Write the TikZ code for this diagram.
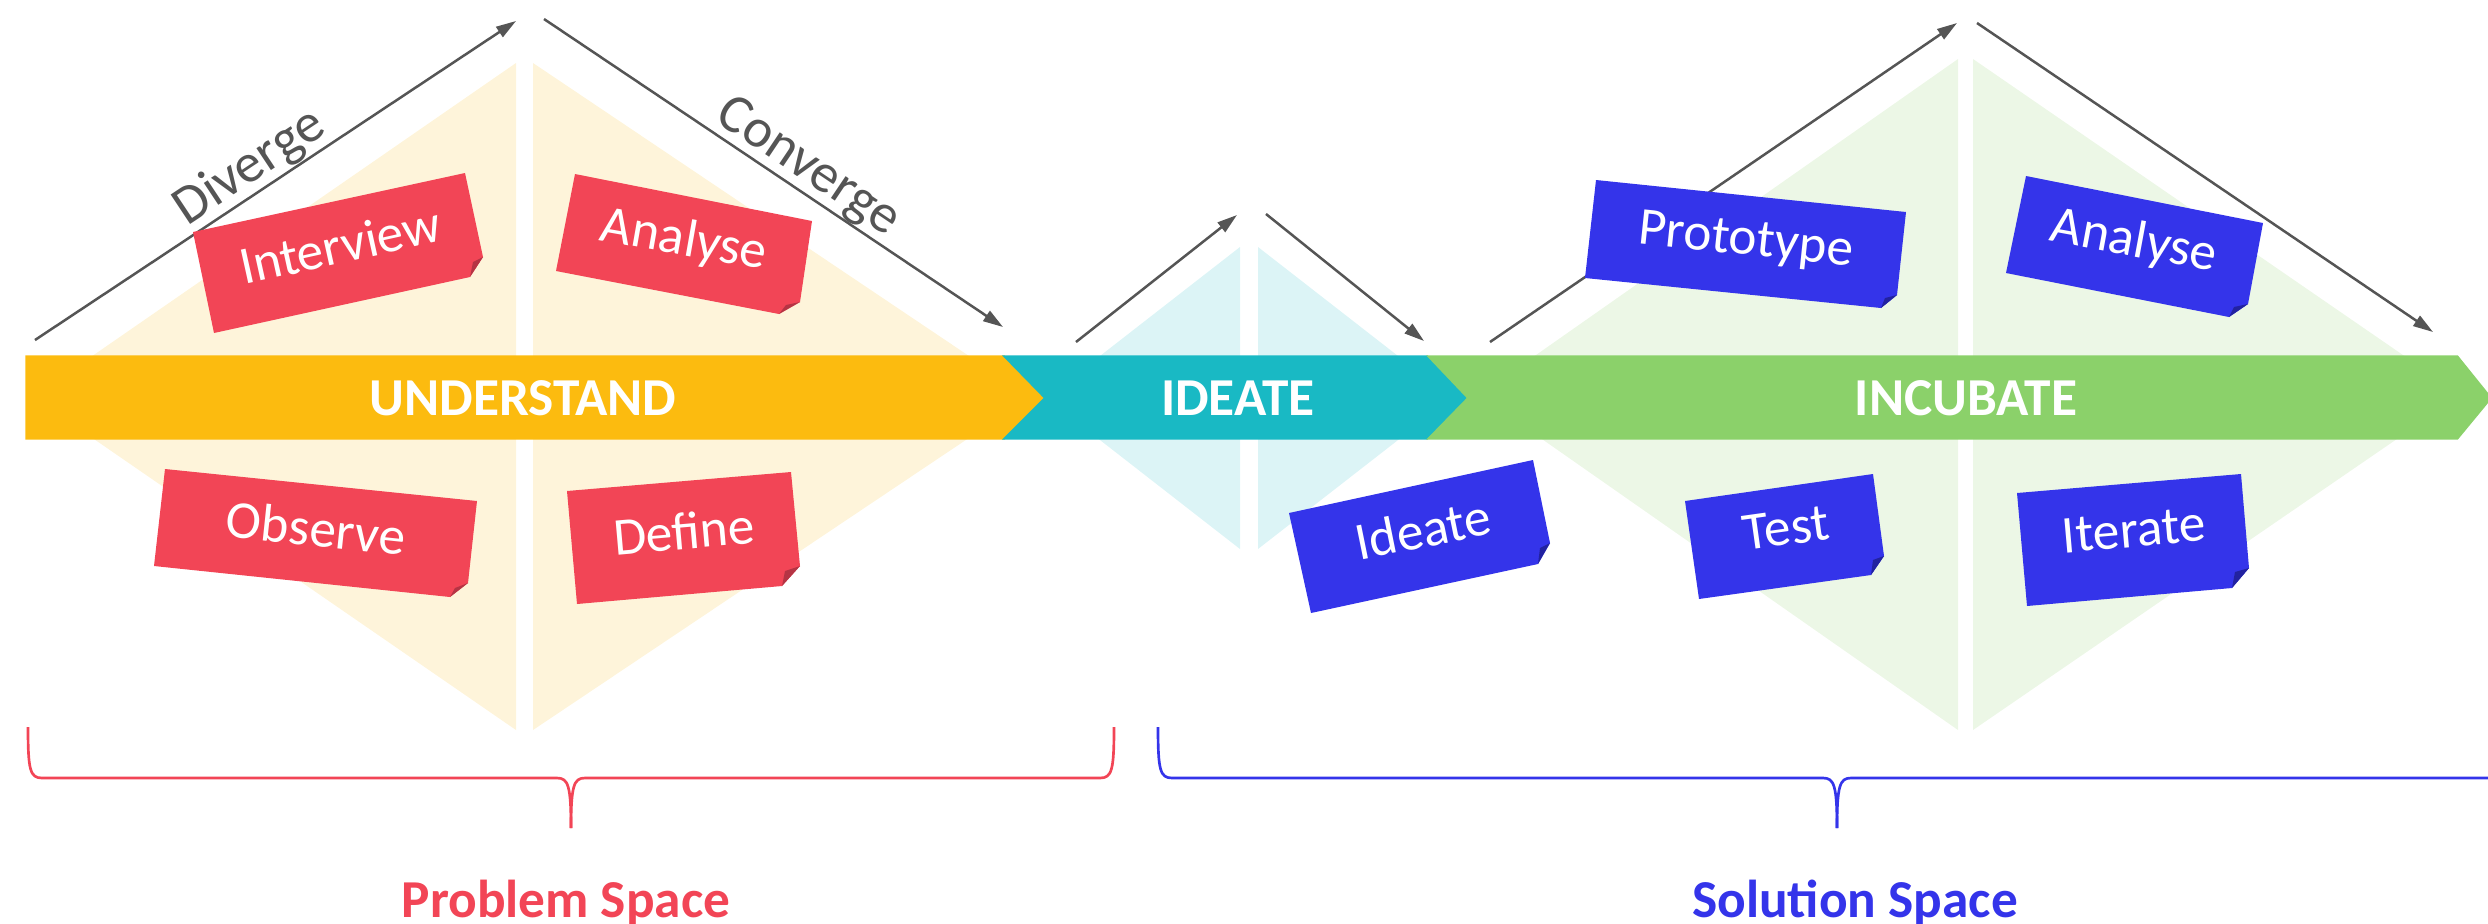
\documentclass[tikz,border=0pt]{standalone}
\usepackage{fontspec}
\setmainfont{Carlito}
\usetikzlibrary{arrows.meta}
\definecolor{uyel}{HTML}{FCBB0F}
\definecolor{iteal}{HTML}{19B9C4}
\definecolor{igreen}{HTML}{8BD16A}
\definecolor{ylight}{HTML}{FEF4DA}
\definecolor{tlight}{HTML}{DCF4F6}
\definecolor{glight}{HTML}{ECF7E6}
\definecolor{nred}{HTML}{F24556}
\definecolor{nreddark}{HTML}{B53444}
\definecolor{nblue}{HTML}{3434EA}
\definecolor{nbluedark}{HTML}{2222A0}
\definecolor{agray}{HTML}{555555}
\tikzset{
  arr/.style={draw=agray, line width=0.75pt, -{Triangle[length=6pt,width=3.6pt]}},
  lbl/.style={text=agray, font=\fontsize{16.5}{19}\selectfont, inner sep=0pt},
  bartxt/.style={text=white, font=\fontsize{16}{19}\selectfont\bfseries},
  notetxt/.style={text=white, font=\fontsize{16}{19}\selectfont},
  bar/.style={draw=white, line width=1pt},
  rbrace/.style={draw=nred, line width=0.8pt},
  bbrace/.style={draw=nblue, line width=0.8pt},
}
\begin{document}
\begin{tikzpicture}[x=0.3pt,y=-0.3pt]
\useasboundingbox (0,0) rectangle (2488,923);
% diamonds
\fill[ylight] (516,63) -- (33,397) -- (516,730) -- cycle;
\fill[ylight] (533,63) -- (1030,397) -- (533,730) -- cycle;
\fill[tlight] (1240,247) -- (1046,398) -- (1240,549) -- cycle;
\fill[tlight] (1258,247) -- (1452,398) -- (1258,549) -- cycle;
\fill[glight] (1958,59) -- (1479,395) -- (1958,730) -- cycle;
\fill[glight] (1973,59) -- (2461,395) -- (1973,730) -- cycle;
% bars
\fill[bar, uyel] (27,357) -- (1004,357) -- (1045,398) -- (1004,438) -- (27,438) -- cycle;
\fill[bar, iteal] (1006,357) -- (1427,357) -- (1467,398) -- (1427,438) -- (1006,438) -- (1046,398) -- cycle;
\fill[bar, igreen] (1430,357) -- (2457,357) -- (2490,398) -- (2457,438) -- (1430,438) -- (1469,398) -- cycle;
\node[bartxt] (und) at (523,398) {UNDERSTAND};
\node[bartxt] (ide) at (1238,398) {IDEATE};
\node[bartxt] (inc) at (1966,398) {INCUBATE};
% arrows
\coordinate (a1) at (35,340); \coordinate (a2) at (516,21);
\coordinate (a3) at (544,19); \coordinate (a4) at (1003,327);
\coordinate (b1) at (1076,342); \coordinate (b2) at (1237,215);
\coordinate (b3) at (1266,214); \coordinate (b4) at (1424,341);
\coordinate (c1) at (1490,342); \coordinate (c2) at (1957,23);
\coordinate (c3) at (1977,23); \coordinate (c4) at (2433,332);
\draw[arr] (a1) -- node[lbl, sloped, anchor=south, pos=0.475] (dv) {Diverge} (a2);
\draw[arr] (a3) -- node[lbl, sloped, anchor=south, pos=0.546] (cv) {Converge} (a4);
\draw[arr] (b1) -- (b2);
\draw[arr] (b3) -- (b4);
\draw[arr] (c1) -- (c2);
\draw[arr] (c3) -- (c4);
% red notes
\fill[nred] (193,232) -- (465,173) -- (483,257) -- (470,277) -- (214,333) -- cycle;
\fill[nreddark] (483,257) -- (470,277) -- (473,262) -- cycle;
\node[notetxt, rotate=12.5] (n1) at (340,245) {Interview};
\fill[nred] (575,174) -- (812,221) -- (800,302) -- (779,314) -- (556,271) -- cycle;
\fill[nreddark] (800,302) -- (779,314) -- (786,305) -- cycle;
\node[notetxt, rotate=-10] (n2) at (684,241) {Analyse};
\fill[nred] (165,469) -- (477,501) -- (468,583) -- (450,597) -- (154,566) -- cycle;
\fill[nreddark] (468,583) -- (450,597) -- (455,588) -- cycle;
\node[notetxt, rotate=-6] (n3) at (316,528) {Observe};
\fill[nred] (567,491) -- (791,472) -- (800,566) -- (782,586) -- (577,604) -- cycle;
\fill[nreddark] (800,566) -- (782,586) -- (785,571) -- cycle;
\node[notetxt, rotate=5] (n4) at (684,531) {Define};
% blue notes
\fill[nblue] (1596,180) -- (1906,212) -- (1897,295) -- (1881,308) -- (1585,278) -- cycle;
\fill[nbluedark] (1897,295) -- (1881,308) -- (1885,298) -- cycle;
\node[notetxt, rotate=-6] (n5) at (1746,242) {Prototype};
\fill[nblue] (2026,176) -- (2263,223) -- (2248,304) -- (2229,317) -- (2006,273) -- cycle;
\fill[nbluedark] (2248,304) -- (2229,317) -- (2234,307) -- cycle;
\node[notetxt, rotate=-10.5] (n6) at (2134,242) {Analyse};
\fill[nblue] (1289,513) -- (1533,460) -- (1550,543) -- (1538,564) -- (1311,613) -- cycle;
\fill[nbluedark] (1550,543) -- (1538,564) -- (1540,548) -- cycle;
\node[notetxt, rotate=11.5] (n7) at (1423,529) {Ideate};
\fill[nblue] (1685,501) -- (1873,474) -- (1884,556) -- (1871,575) -- (1699,599) -- cycle;
\fill[nbluedark] (1884,556) -- (1871,575) -- (1873,560) -- cycle;
\node[notetxt, rotate=8] (n8) at (1786,528) {Test};
\fill[nblue] (2017,493) -- (2241,474) -- (2249,568) -- (2232,588) -- (2027,606) -- cycle;
\fill[nbluedark] (2249,568) -- (2232,588) -- (2235,572) -- cycle;
\node[notetxt, rotate=5] (n9) at (2134,530) {Iterate};
% braces
\draw[rbrace] (28,727) .. controls (28,770) and (30,778) .. (42,778) -- (557,778) .. controls (568,778) and (571,785) .. (571,828);
\draw[rbrace] (1114,727) .. controls (1114,770) and (1112,778) .. (1100,778) -- (585,778) .. controls (574,778) and (571,785) .. (571,828);
\draw[bbrace] (1158,727) .. controls (1158,770) and (1160,778) .. (1172,778) -- (1823,778) .. controls (1834,778) and (1837,785) .. (1837,828);
\draw[bbrace] (2488,778) -- (1851,778) .. controls (1840,778) and (1837,785) .. (1837,828);
\node[text=nred, font=\fontsize{16}{19}\selectfont\bfseries, anchor=base] (ps) at (566,917) {Problem Space};
\node[text=nblue, font=\fontsize{16}{19}\selectfont\bfseries, anchor=base] (ss) at (1855,917) {Solution Space};
\end{tikzpicture}
\end{document}
